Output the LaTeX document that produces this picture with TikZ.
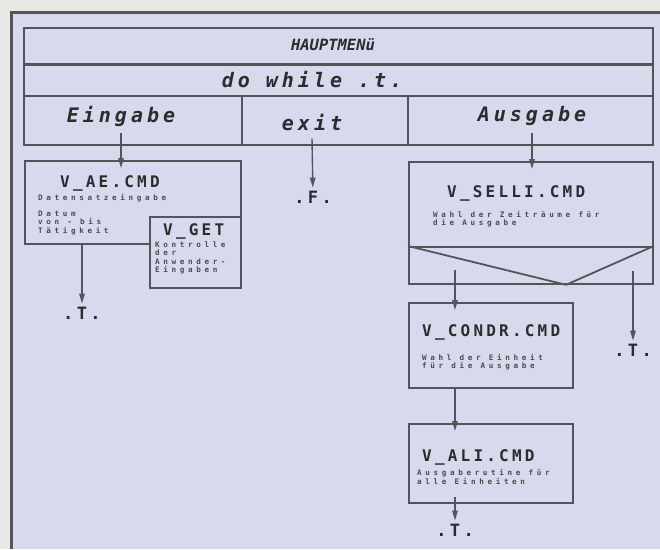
\documentclass[tikz,border=0pt]{standalone}
\usepackage{fontspec}
\usepackage{tikz}
\usetikzlibrary{arrows.meta,positioning,calc}
\newfontfamily\pixmono{DejaVu Sans Mono}
\newfontfamily\pixwide[LetterSpace=20]{DejaVu Sans Mono}
\newfontfamily\pixsmall[LetterSpace=48]{DejaVu Sans Mono}
\definecolor{paper}{HTML}{E8E8E5}
\definecolor{screen}{HTML}{D7DAEC}
\definecolor{ink}{HTML}{2E2B2E}
\definecolor{rule}{HTML}{57535A}

\begin{document}
\begin{tikzpicture}[x=1pt,y=-1pt,>={Triangle[length=10pt,width=5.5pt]},
  cell/.style={draw=rule,line width=1.8pt,inner sep=0pt,anchor=north west},
  cmdbox/.style={draw=rule,line width=1.8pt,inner sep=0pt,anchor=north west},
  rowlabel/.style={text=ink,inner sep=0pt,font=\pixwide\bfseries\itshape\fontsize{20}{20}\selectfont},
  cmdname/.style={text=ink,inner sep=0pt,anchor=west,font=\pixwide\bfseries\fontsize{16}{16}\selectfont},
  cmdnote/.style={text=ink!85,inner sep=0pt,anchor=west,align=left,font=\pixsmall\bfseries\fontsize{7.6}{8.4}\selectfont},
  term/.style={text=ink,inner sep=3pt,font=\pixwide\bfseries\fontsize{17}{17}\selectfont},
  arr/.style={->,draw=rule,line width=1.4pt,shorten >=-8pt},
  arrt/.style={->,draw=rule,line width=1.4pt}]
\useasboundingbox (0,0) rectangle (660,549);
\fill[paper] (0,0) rectangle (660,549);
\fill[screen] (11,12) rectangle (660,549);
\draw[rule,line width=3pt] (11,549) -- (11,12) -- (660,12);

% structogram head
\node[cell,minimum width=629pt,minimum height=36pt] (menu) at (23,27) {};
\node[cell,minimum width=629pt,minimum height=32pt] (loop) at (23,63) {};
\node[cell,minimum width=218pt,minimum height=49pt] (einc) at (23,95) {};
\node[cell,minimum width=166pt,minimum height=49pt] (exitc) at (241,95) {};
\node[cell,minimum width=245pt,minimum height=49pt] (ausc) at (407,95) {};
\draw[rule,line width=3pt] (menu.south west) -- (menu.south east);

\node[text=ink,inner sep=0pt,font=\pixmono\bfseries\itshape\fontsize{15.5}{15.5}\selectfont] (haupt) at (333,45) {HAUPTMENü};
\node[rowlabel] (dowhile) at (312,80) {do while .t.};
\node[rowlabel] (ein) at (121,116) {Eingabe};
\node[rowlabel] (exit) at (312,123) {exit};
\node[rowlabel] (aus) at (532,116) {Ausgabe};

% Eingabe branch
\node[cmdbox,minimum width=216pt,minimum height=83pt] (ae) at (24,160) {};
\node[cmdbox,fill=screen,minimum width=91pt,minimum height=71pt] (get) at (149,216) {};
\node[cmdname] (aename) at (60,183) {V\_AE.CMD};
\node[cmdnote] (aenote) at (38,198) {Datensatzeingabe};
\node[cmdnote] (aedata) at (38,223) {Datum\\von - bis\\Tätigkeit};
\node[cmdname] (getname) at (163,231) {V\_GET};
\node[cmdnote] (getnote) at (155,258) {Kontrolle\\der\\Anwender-\\Eingaben};
\node[term] (tein) at (82,313) {.T.};

% exit branch
\node[term] (fexit) at (313,197) {.F.};

% Ausgabe branch
\node[cmdbox,minimum width=244pt,minimum height=85pt] (selli) at (408,161) {};
\node[cmdbox,minimum width=244pt,minimum height=37pt] (case) at (408,246) {};
\draw[rule,line width=1.8pt] (case.north west) -- ($(case.south west)+(158,0)$)
  -- (case.north east);
\node[cmdname] (selliname) at (447,193) {V\_SELLI.CMD};
\node[cmdnote] (sellinote) at (433,219) {Wahl der Zeiträume für\\die Ausgabe};
\node[cmdbox,minimum width=164pt,minimum height=85pt] (condr) at (408,302) {};
\node[cmdname] (condrname) at (422,332) {V\_CONDR.CMD};
\node[cmdnote] (condrnote) at (422,362) {Wahl der Einheit\\für die Ausgabe};
\node[cmdbox,minimum width=164pt,minimum height=79pt] (ali) at (408,423) {};
\node[cmdname] (aliname) at (422,457) {V\_ALI.CMD};
\node[cmdnote] (alinote) at (417,477) {Ausgaberutine für\\alle Einheiten};
\node[term] (tali) at (455,530) {.T.};
\node[term] (tsel) at (633,350) {.T.};
\coordinate (yes) at (455,270);
\coordinate (no) at (633,271);

% connectors
\draw[arr] ([yshift=-7pt]ein.south) -- (ein.south |- ae.north);
\draw[arrt] ([yshift=-7pt]exit.south) -- (fexit);
\draw[arr] ([yshift=-7pt]aus.south) -- (aus.south |- selli.north);
\draw[arrt] (tein |- ae.south) -- (tein);
\draw[arr] (yes) -- (yes |- condr.north);
\draw[arrt] (no) -- (tsel);
\draw[arr] (yes |- condr.south) -- (yes |- ali.north);
\draw[arrt] ($(tali |- ali.south)+(0,-7)$) -- (tali);
\end{tikzpicture}
\end{document}
